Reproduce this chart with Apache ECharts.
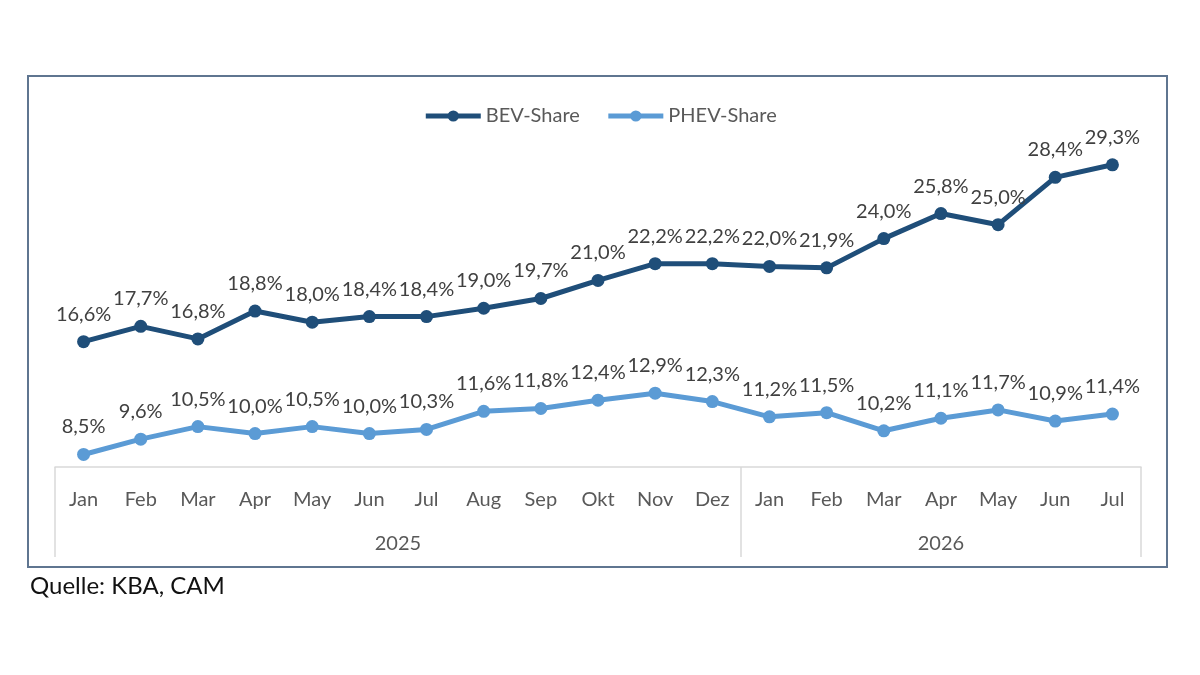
<!DOCTYPE html>
<html>
<head>
<meta charset="utf-8">
<script src="https://cdn.jsdelivr.net/npm/echarts@6/dist/echarts.min.js"></script>
<style>
    html, body { margin: 0; padding: 0; background: #fff; }
    #main { width: 1200px; height: 675px; }
</style>
</head>
<body>
<div id="main"></div>
<script>
// chart data
var months = ['Jan', 'Feb', 'Mar', 'Apr', 'May', 'Jun', 'Jul', 'Aug', 'Sep', 'Okt', 'Nov', 'Dez',
              'Jan', 'Feb', 'Mar', 'Apr', 'May', 'Jun', 'Jul'];
var years = ['2025', '2026'];
var yearBounds = [0, 12, 19]; // month index where each year starts / ends
var bevShare = [16.6, 17.7, 16.8, 18.8, 18.0, 18.4, 18.4, 19.0, 19.7, 21.0, 22.2, 22.2,
                22.0, 21.9, 24.0, 25.8, 25.0, 28.4, 29.3];
var phevShare = [8.5, 9.6, 10.5, 10.0, 10.5, 10.0, 10.3, 11.6, 11.8, 12.4, 12.9, 12.3,
                 11.2, 11.5, 10.2, 11.1, 11.7, 10.9, 11.4];

var font = 'Lato, "Open Sans", sans-serif';
var textColor = '#595959';

// year label positions = middle of each year block
var yearCenters = [];
for (var i = 0; i < years.length; i++) {
    yearCenters.push((yearBounds[i] + yearBounds[i + 1]) / 2);
}

function pct(p) {
    return p.value.toFixed(1).replace('.', ',') + '%';
}

var myChart = echarts.init(document.getElementById('main'));
var option = {
    animation: false,
    textStyle: { fontFamily: font },
    title: {
        text: 'Quelle: KBA, CAM',
        left: 25,
        top: 569,
        textStyle: { fontFamily: font, fontSize: 24, fontWeight: 'normal', color: '#111' }
    },
    graphic: [{
        type: 'rect',
        shape: { x: 28, y: 76, width: 1139, height: 491 },
        style: { fill: 'none', stroke: '#5f7590', lineWidth: 2 },
        silent: true
    }],
    legend: {
        top: 101,
        left: 'center',
        itemWidth: 55,
        itemHeight: 14,
        itemGap: 26,
        lineStyle: { width: 5 },
        textStyle: { fontFamily: font, fontSize: 20, color: textColor },
        data: ['BEV-Share', 'PHEV-Share']
    },
    grid: { left: 55, right: 59, top: 130, bottom: 208 },
    xAxis: [{
        type: 'category',
        data: months,
        boundaryGap: true,
        axisLine: { lineStyle: { color: '#d9d9d9', width: 1.5 } },
        axisTick: { show: false },
        axisLabel: { margin: 23, fontSize: 20, color: textColor, fontFamily: font }
    }, {
        type: 'value',
        position: 'bottom',
        min: 0,
        max: months.length,
        axisLine: { show: false },
        splitLine: { show: false },
        axisTick: {
            show: true,
            customValues: yearBounds,
            length: 90,
            lineStyle: { color: '#d9d9d9', width: 1.5 }
        },
        axisLabel: {
            customValues: yearCenters,
            margin: 67,
            fontSize: 20,
            color: textColor,
            fontFamily: font,
            formatter: function (v) {
                return years[yearCenters.indexOf(v)];
            }
        }
    }],
    yAxis: {
        type: 'value',
        min: 7.6,
        max: 31.8,
        show: false
    },
    series: [{
        name: 'BEV-Share',
        type: 'line',
        data: bevShare,
        symbol: 'circle',
        symbolSize: 13,
        color: '#1f4e79',
        lineStyle: { width: 5 },
        label: {
            show: true,
            position: 'top',
            distance: 11,
            fontSize: 20,
            color: '#404040',
            fontFamily: font,
            formatter: pct
        }
    }, {
        name: 'PHEV-Share',
        type: 'line',
        data: phevShare,
        symbol: 'circle',
        symbolSize: 13,
        color: '#5b9bd5',
        lineStyle: { width: 5 },
        label: {
            show: true,
            position: 'top',
            distance: 11,
            fontSize: 20,
            color: '#404040',
            fontFamily: font,
            formatter: pct
        }
    }]
};
myChart.setOption(option);
</script>
</body>
</html>
